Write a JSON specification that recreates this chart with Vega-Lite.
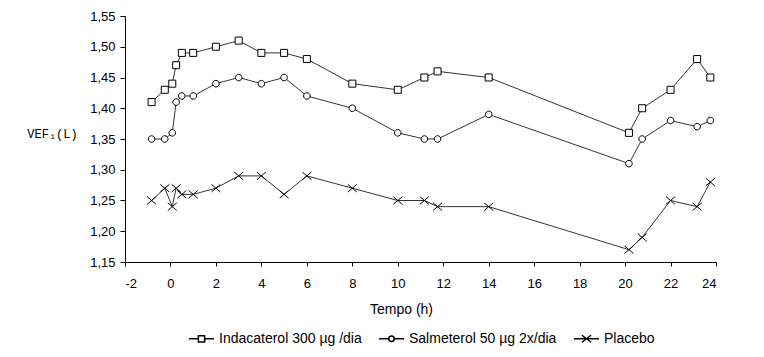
{
  "$schema": "https://vega.github.io/schema/vega-lite/v6.json",
  "width": 591,
  "height": 246,
  "autosize": "none",
  "padding": {"left": 125, "top": 16, "right": 48, "bottom": 95},
  "background": "white",
  "data": {
    "values": [
      {"t": -0.83, "s": "Indacaterol 300 µg /dia", "v": 1.41},
      {"t": -0.25, "s": "Indacaterol 300 µg /dia", "v": 1.43},
      {"t": 0.08, "s": "Indacaterol 300 µg /dia", "v": 1.44},
      {"t": 0.25, "s": "Indacaterol 300 µg /dia", "v": 1.47},
      {"t": 0.5, "s": "Indacaterol 300 µg /dia", "v": 1.49},
      {"t": 1, "s": "Indacaterol 300 µg /dia", "v": 1.49},
      {"t": 2, "s": "Indacaterol 300 µg /dia", "v": 1.50},
      {"t": 3, "s": "Indacaterol 300 µg /dia", "v": 1.51},
      {"t": 4, "s": "Indacaterol 300 µg /dia", "v": 1.49},
      {"t": 5, "s": "Indacaterol 300 µg /dia", "v": 1.49},
      {"t": 6, "s": "Indacaterol 300 µg /dia", "v": 1.48},
      {"t": 8, "s": "Indacaterol 300 µg /dia", "v": 1.44},
      {"t": 10, "s": "Indacaterol 300 µg /dia", "v": 1.43},
      {"t": 11.17, "s": "Indacaterol 300 µg /dia", "v": 1.45},
      {"t": 11.75, "s": "Indacaterol 300 µg /dia", "v": 1.46},
      {"t": 14, "s": "Indacaterol 300 µg /dia", "v": 1.45},
      {"t": 20.17, "s": "Indacaterol 300 µg /dia", "v": 1.36},
      {"t": 20.75, "s": "Indacaterol 300 µg /dia", "v": 1.40},
      {"t": 22, "s": "Indacaterol 300 µg /dia", "v": 1.43},
      {"t": 23.17, "s": "Indacaterol 300 µg /dia", "v": 1.48},
      {"t": 23.75, "s": "Indacaterol 300 µg /dia", "v": 1.45},
      {"t": -0.83, "s": "Salmeterol 50 µg 2x/dia", "v": 1.35},
      {"t": -0.25, "s": "Salmeterol 50 µg 2x/dia", "v": 1.35},
      {"t": 0.08, "s": "Salmeterol 50 µg 2x/dia", "v": 1.36},
      {"t": 0.25, "s": "Salmeterol 50 µg 2x/dia", "v": 1.41},
      {"t": 0.5, "s": "Salmeterol 50 µg 2x/dia", "v": 1.42},
      {"t": 1, "s": "Salmeterol 50 µg 2x/dia", "v": 1.42},
      {"t": 2, "s": "Salmeterol 50 µg 2x/dia", "v": 1.44},
      {"t": 3, "s": "Salmeterol 50 µg 2x/dia", "v": 1.45},
      {"t": 4, "s": "Salmeterol 50 µg 2x/dia", "v": 1.44},
      {"t": 5, "s": "Salmeterol 50 µg 2x/dia", "v": 1.45},
      {"t": 6, "s": "Salmeterol 50 µg 2x/dia", "v": 1.42},
      {"t": 8, "s": "Salmeterol 50 µg 2x/dia", "v": 1.40},
      {"t": 10, "s": "Salmeterol 50 µg 2x/dia", "v": 1.36},
      {"t": 11.17, "s": "Salmeterol 50 µg 2x/dia", "v": 1.35},
      {"t": 11.75, "s": "Salmeterol 50 µg 2x/dia", "v": 1.35},
      {"t": 14, "s": "Salmeterol 50 µg 2x/dia", "v": 1.39},
      {"t": 20.17, "s": "Salmeterol 50 µg 2x/dia", "v": 1.31},
      {"t": 20.75, "s": "Salmeterol 50 µg 2x/dia", "v": 1.35},
      {"t": 22, "s": "Salmeterol 50 µg 2x/dia", "v": 1.38},
      {"t": 23.17, "s": "Salmeterol 50 µg 2x/dia", "v": 1.37},
      {"t": 23.75, "s": "Salmeterol 50 µg 2x/dia", "v": 1.38},
      {"t": -0.83, "s": "Placebo", "v": 1.25},
      {"t": -0.25, "s": "Placebo", "v": 1.27},
      {"t": 0.08, "s": "Placebo", "v": 1.24},
      {"t": 0.25, "s": "Placebo", "v": 1.27},
      {"t": 0.5, "s": "Placebo", "v": 1.26},
      {"t": 1, "s": "Placebo", "v": 1.26},
      {"t": 2, "s": "Placebo", "v": 1.27},
      {"t": 3, "s": "Placebo", "v": 1.29},
      {"t": 4, "s": "Placebo", "v": 1.29},
      {"t": 5, "s": "Placebo", "v": 1.26},
      {"t": 6, "s": "Placebo", "v": 1.29},
      {"t": 8, "s": "Placebo", "v": 1.27},
      {"t": 10, "s": "Placebo", "v": 1.25},
      {"t": 11.17, "s": "Placebo", "v": 1.25},
      {"t": 11.75, "s": "Placebo", "v": 1.24},
      {"t": 14, "s": "Placebo", "v": 1.24},
      {"t": 20.17, "s": "Placebo", "v": 1.17},
      {"t": 20.75, "s": "Placebo", "v": 1.19},
      {"t": 22, "s": "Placebo", "v": 1.25},
      {"t": 23.17, "s": "Placebo", "v": 1.24},
      {"t": 23.75, "s": "Placebo", "v": 1.28}
    ]
  },
  "encoding": {
    "x": {
      "field": "t", "type": "quantitative",
      "scale": {"domain": [-2, 24], "nice": false, "zero": false},
      "axis": {
        "title": "Tempo (h)",
        "values": [-2, 0, 2, 4, 6, 8, 10, 12, 14, 16, 18, 20, 22, 24],
        "labelExpr": "'' + datum.value",
        "grid": false,
        "tickSize": 4,
        "labelPadding": 11,
        "titleX": 276,
        "titleY": 47,
        "titleAlign": "center",
        "titleBaseline": "middle"
      }
    },
    "y": {
      "field": "v", "type": "quantitative",
      "scale": {"domain": [1.15, 1.55], "nice": false, "zero": false},
      "axis": {
        "title": "VEF₁(L)",
        "values": [1.15, 1.2, 1.25, 1.3, 1.35, 1.4, 1.45, 1.5, 1.55],
        "labelExpr": "replace(format(datum.value, '.2f'), '.', ',')",
        "grid": false,
        "tickSize": 5,
        "labelPadding": 5,
        "titleAngle": 0,
        "titleX": -73,
        "titleY": 117,
        "titleAlign": "center",
        "titleBaseline": "middle",
        "titleFont": "Liberation Mono",
        "titleFontSize": 12,
        "titleFontWeight": "normal"
      }
    }
  },
  "resolve": {"scale": {"shape": "independent"}, "legend": {"shape": "independent"}},
  "layer": [
    {
      "mark": {"type": "line", "color": "#333333", "strokeWidth": 1},
      "encoding": {"detail": {"field": "s", "type": "nominal"}}
    },
    {
      "mark": {"type": "point", "filled": true, "fill": "white", "stroke": "black", "strokeWidth": 1, "size": 81, "opacity": 1},
      "encoding": {
        "shape": {
          "field": "s", "type": "nominal",
          "scale": {
            "domain": ["Indacaterol 300 µg /dia", "Salmeterol 50 µg 2x/dia", "Placebo"],
            "range": [
              "M-0.78,-0.78H0.78V0.78H-0.78Z",
              "M-0.73,0A0.73,0.73,0,1,0,0.73,0A0.73,0.73,0,1,0,-0.73,0Z",
              "M-1,-0.85L1,0.85M-1,0.85L1,-0.85"
            ]
          },
          "legend": null
        }
      }
    },
    {
      "mark": {"type": "point", "filled": true, "fill": "white", "stroke": "black", "strokeWidth": 1, "size": 0, "opacity": 1},
      "encoding": {
        "shape": {
          "field": "s", "type": "nominal",
          "scale": {
            "domain": ["Indacaterol 300 µg /dia", "Salmeterol 50 µg 2x/dia", "Placebo"],
            "range": [
              "M-1,0H-0.25M0.25,0H1M-0.25,-0.25H0.25V0.25H-0.25Z",
              "M-1,0H-0.22M0.22,0H1M-0.22,0A0.22,0.22,0,1,0,0.22,0A0.22,0.22,0,1,0,-0.22,0Z",
              "M-1,0H1M-0.36,-0.28L0.36,0.28M-0.36,0.28L0.36,-0.28"
            ]
          },
          "legend": {
            "title": null,
            "orient": "none",
            "direction": "horizontal",
            "legendX": 63,
            "legendY": 309,
            "symbolSize": 625,
            "labelFont": "Liberation Sans",
            "labelFontSize": 14,
            "labelColor": "black",
            "labelOffset": 4,
            "columnPadding": 14
          }
        }
      }
    }
  ],
  "config": {
    "view": {"stroke": null},
    "font": "Liberation Sans",
    "axis": {
      "domainColor": "black",
      "tickColor": "black",
      "labelColor": "black",
      "titleColor": "black",
      "labelFont": "Liberation Sans",
      "labelFontSize": 13,
      "titleFont": "Liberation Sans",
      "titleFontSize": 14,
      "titleFontWeight": "normal",
      "domainWidth": 1,
      "tickWidth": 1
    }
  }
}
